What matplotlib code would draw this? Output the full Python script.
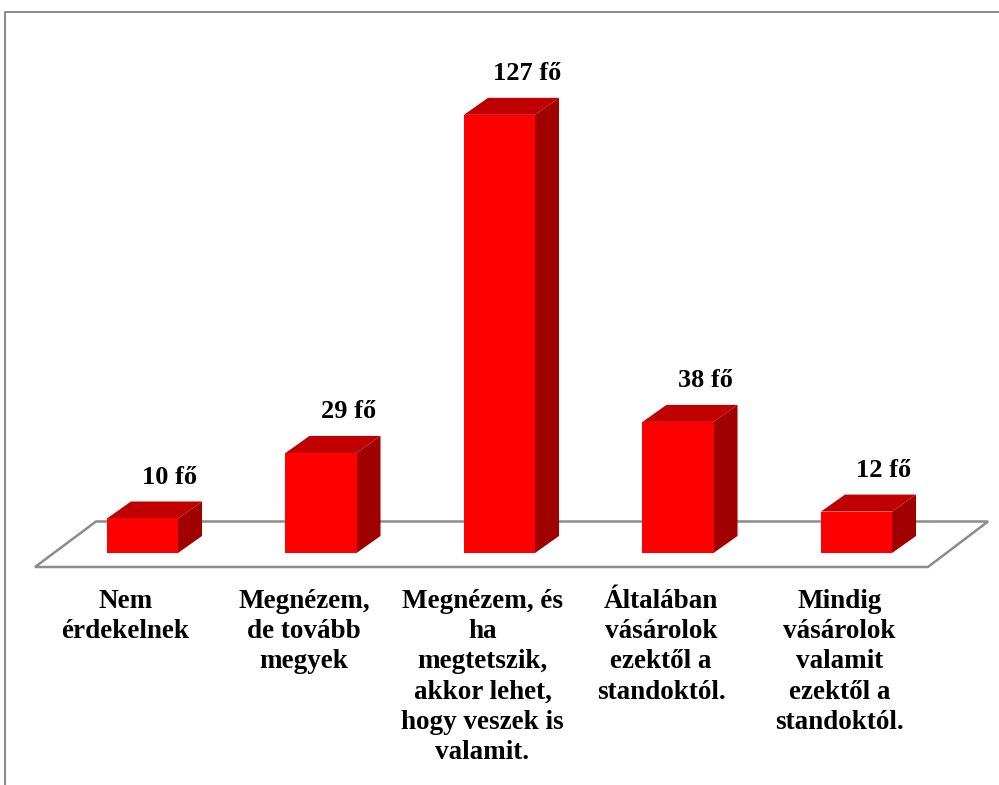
import matplotlib
matplotlib.use("Agg")
import matplotlib.pyplot as plt
from matplotlib.patches import Polygon
from matplotlib.lines import Line2D

categories = [
    "Nem\nérdekelnek",
    "Megnézem,\nde tovább\nmegyek",
    "Megnézem, és\nha\nmegtetszik,\nakkor lehet,\nhogy veszek is\nvalamit.",
    "Általában\nvásárolok\nezektől a\nstandoktól.",
    "Mindig\nvásárolok\nvalamit\nezektől a\nstandoktól.",
]
values = [10, 29, 127, 38, 12]
value_labels = [f"{v} fő" for v in values]

# style / geometry (in data units)
half_w = 0.199
dx, dy = 0.1345, 4.93
front_c, top_c, side_c = "#FF0000", "#C00000", "#A00000"
font = ["Liberation Serif", "DejaVu Serif"]

fig = plt.figure(figsize=(9.99, 7.85), dpi=100)
ax = fig.add_axes([0, 0, 1, 1])
ax.set_xlim(-0.7983, 4.7983)
ax.set_ylim(-67.25, 160.29)
ax.axis("off")

# floor
floor = Polygon([(-0.602, -4.06), (4.40, -4.06), (4.737, 9.13), (-0.2605, 9.13)],
                closed=True, facecolor="white", edgecolor="#8c8c8c", lw=1.8, zorder=1)
ax.add_patch(floor)

for i, (v, lab, cat) in enumerate(zip(values, value_labels, categories)):
    x0, x1 = i - half_w, i + half_w
    front = Polygon([(x0, 0), (x1, 0), (x1, v), (x0, v)], closed=True,
                    facecolor=front_c, edgecolor="none", zorder=3)
    top = Polygon([(x0, v), (x1, v), (x1 + dx, v + dy), (x0 + dx, v + dy)], closed=True,
                  facecolor=top_c, edgecolor="none", zorder=3)
    side = Polygon([(x1, 0), (x1 + dx, dy), (x1 + dx, v + dy), (x1, v)], closed=True,
                   facecolor=side_c, edgecolor="none", zorder=3)
    for p in (side, top, front):
        ax.add_patch(p)
    ax.text(i + 0.154, v + dy + 5.2, lab, ha="center", va="baseline",
            fontsize=19, fontweight="bold", family=font, zorder=4)
    ax.text(i - 0.095, -10.5, cat, ha="center", va="top", multialignment="center",
            fontsize=19.5, fontweight="bold", family=font, linespacing=1.27, zorder=4)

# outer frame (left and top edges)
fx, fy = 4.5 / 999, 1 - 11.5 / 785
fig.add_artist(Line2D([fx, fx, 1.0], [0.0, fy, fy], transform=fig.transFigure,
                      color="#8c8c8c", lw=1.5))

fig.savefig("out.png", dpi=100)
